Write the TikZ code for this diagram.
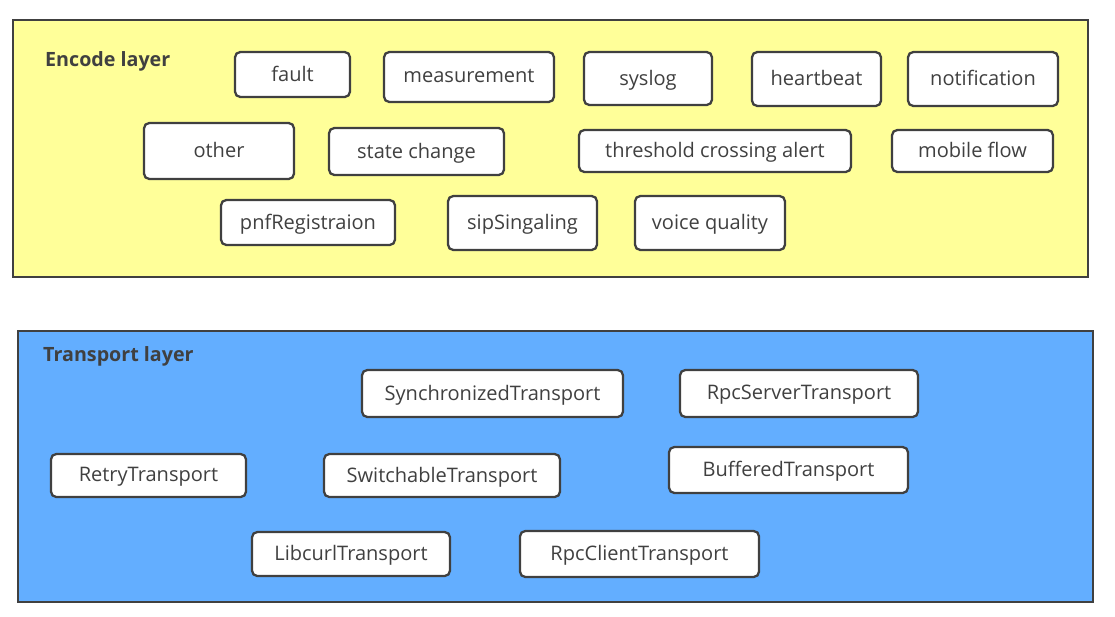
\documentclass[tikz,border=0pt]{standalone}
\usepackage{fontspec}
\setmainfont{Open Sans}
\definecolor{encodeyellow}{HTML}{FFFF99}
\definecolor{transportblue}{HTML}{63AEFF}
\definecolor{edgegray}{HTML}{404040}
\begin{document}
\begin{tikzpicture}[x=0.02cm,y=-0.02cm,font=\fontsize{11.4}{13}\selectfont,
    layer/.style={draw=edgegray,line width=1.4pt},
    item/.style={draw=edgegray,fill=white,line width=1.3pt,rounded corners=3pt,text=edgegray,inner sep=0pt,text depth=0.2ex},
    title/.style={anchor=west,font=\fontsize{11.2}{13}\selectfont\bfseries,text=edgegray}]
    \useasboundingbox (0,0) rectangle (1115,616);

    \draw[layer,fill=encodeyellow] (13,20) rectangle (1088,277);
    \draw[layer,fill=transportblue] (18,331) rectangle (1093,602);

    \node[title] (enc) at (39,61) {Encode layer};
    \node[title] (tra) at (37,356) {Transport layer};

    \node[item,minimum width=2.30cm,minimum height=0.90cm] (fault) at (292.5,74.5) {fault};
    \node[item,minimum width=3.40cm,minimum height=1.00cm] (meas) at (469,77) {measurement};
    \node[item,minimum width=2.56cm,minimum height=1.06cm] (sys) at (648,78.5) {syslog};
    \node[item,minimum width=2.58cm,minimum height=1.08cm] (heart) at (816.5,79) {heartbeat};
    \node[item,minimum width=3.00cm,minimum height=1.08cm] (noti) at (983,79) {notification};

    \node[item,minimum width=3.00cm,minimum height=1.12cm] (other) at (219,151) {other};
    \node[item,minimum width=3.50cm,minimum height=0.94cm] (state) at (416.5,151.5) {state change};
    \node[item,minimum width=5.44cm,minimum height=0.84cm] (thres) at (715,151) {threshold crossing alert};
    \node[item,minimum width=3.22cm,minimum height=0.84cm] (mobile) at (972.5,151) {mobile flow};

    \node[item,minimum width=3.48cm,minimum height=0.90cm] (pnf) at (308,222.5) {pnfRegistraion};
    \node[item,minimum width=2.98cm,minimum height=1.08cm] (sip) at (522.5,223) {sipSingaling};
    \node[item,minimum width=3.00cm,minimum height=1.08cm] (voice) at (710,223) {voice quality};

    \node[item,minimum width=5.22cm,minimum height=0.94cm] (sync) at (492.5,393.5) {SynchronizedTransport};
    \node[item,minimum width=4.76cm,minimum height=0.94cm] (rpcs) at (799,393.5) {RpcServerTransport};

    \node[item,minimum width=3.90cm,minimum height=0.86cm] (retry) at (148.5,475.5) {RetryTransport};
    \node[item,minimum width=4.72cm,minimum height=0.86cm] (switch) at (442,475.5) {SwitchableTransport};
    \node[item,minimum width=4.78cm,minimum height=0.92cm] (buff) at (788.5,470) {BufferedTransport};

    \node[item,minimum width=3.96cm,minimum height=0.88cm] (curl) at (351,554) {LibcurlTransport};
    \node[item,minimum width=4.78cm,minimum height=0.92cm] (rpcc) at (639.5,554) {RpcClientTransport};
  \end{tikzpicture}
\end{document}
